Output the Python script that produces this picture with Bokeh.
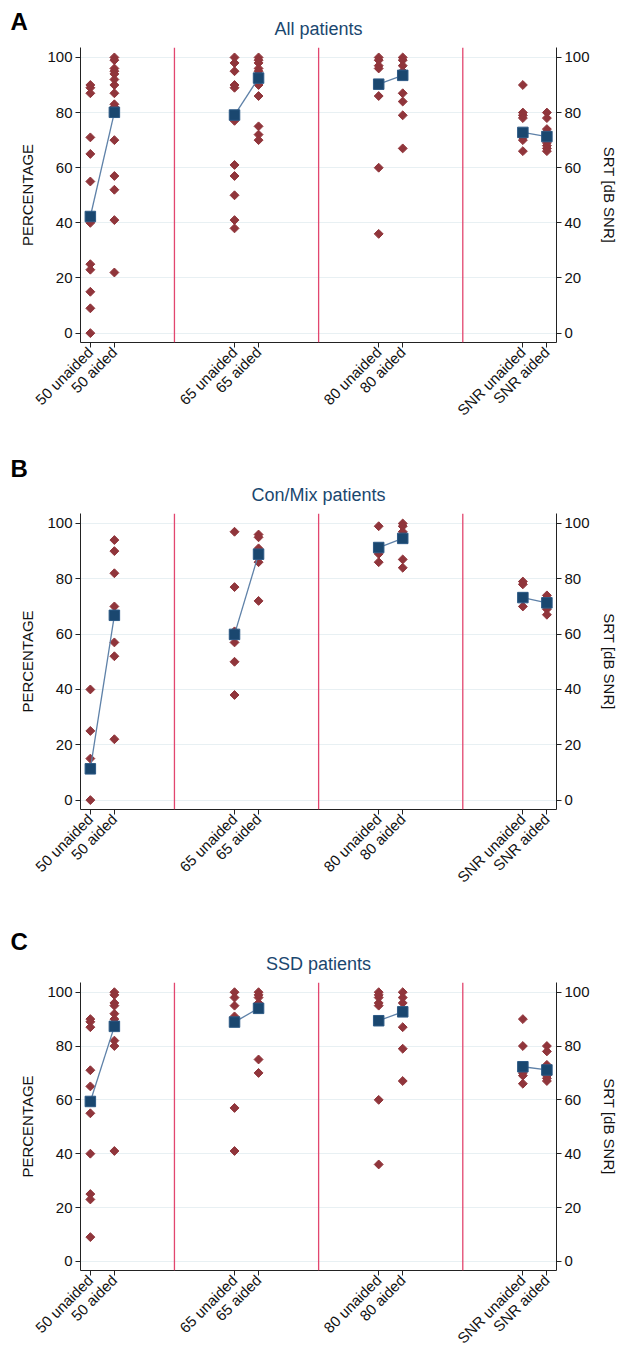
import math
from bokeh.plotting import figure
from bokeh.models import Range1d, LinearAxis, FixedTicker, Span, Title
from bokeh.layouts import column
from bokeh.embed import file_html
from bokeh.resources import INLINE

# ---------------- data ----------------
categories = ["50 unaided", "50 aided", "65 unaided", "65 aided",
              "80 unaided", "80 aided", "SNR unaided", "SNR aided"]
y_ticks = [0, 20, 40, 60, 80, 100]

# Panel A: All patients
all_50_unaided = [90, 89, 87, 71, 65, 55, 40, 25, 23, 15, 9, 0]
all_50_aided = [100, 99, 96, 95, 94, 92, 90, 87, 83, 82, 70, 57, 52, 41, 22]
all_65_unaided = [100, 98, 95, 90, 89, 77, 61, 57, 50, 41, 38]
all_65_aided = [100, 99, 98, 96, 95, 90, 86, 75, 72, 70]
all_80_unaided = [100, 99, 97, 96, 86, 60, 36]
all_80_aided = [100, 99, 97, 95, 87, 84, 79, 67]
all_snr_unaided = [90, 80, 79, 78, 71, 70, 66]
all_snr_aided = [80, 78, 74, 73, 70, 69, 68, 67, 66]
all_means = [42.3, 80.1, 79.1, 92.5, 90.3, 93.5, 72.8, 71.3]

# Panel B: Con/Mix patients
cm_50_unaided = [40, 25, 15, 0]
cm_50_aided = [94, 90, 82, 70, 57, 52, 22]
cm_65_unaided = [97, 77, 61, 57, 50, 38]
cm_65_aided = [96, 95, 91, 86, 72]
cm_80_unaided = [99, 89, 86]
cm_80_aided = [100, 99, 97, 87, 84]
cm_snr_unaided = [79, 78, 70]
cm_snr_aided = [74, 73, 69, 67]
cm_means = [11.3, 66.8, 59.9, 88.9, 91.3, 94.6, 73.2, 71.3]

# Panel C: SSD patients
ssd_50_unaided = [90, 89, 87, 71, 65, 55, 40, 25, 23, 9]
ssd_50_aided = [100, 99, 96, 95, 92, 90, 82, 80, 41]
ssd_65_unaided = [100, 98, 95, 91, 57, 41]
ssd_65_aided = [100, 99, 98, 96, 75, 70]
ssd_80_unaided = [100, 99, 98, 96, 95, 60, 36]
ssd_80_aided = [100, 98, 96, 87, 79, 67]
ssd_snr_unaided = [90, 80, 70, 69, 66]
ssd_snr_aided = [80, 78, 73, 69, 68, 67]
ssd_means = [59.4, 87.3, 88.9, 94.0, 89.4, 92.7, 72.3, 71.1]

# ---------------- style ----------------
FONT = "Liberation Sans"
NAVY = "#1a476f"
CRAN = "#90353b"
LINE = "#5e81a8"
RED_LINE = "#e2466f"
GRID = "#e8f0f3"

positions = [1 + 6 * (i // 2) + (i % 2) for i in range(len(categories))]
separators = [(positions[i + 1] + positions[i + 2]) / 2 for i in (0, 2, 4)]

X0, X1 = 0.59, 20.4
Y0, Y1 = -3.4, 103.6


def make_panel(letter, title, groups, means, height, btop, bbottom, letter_standoff):
    p = figure(width=620, height=height, output_backend="svg", toolbar_location=None,
               x_range=Range1d(X0, X1), y_range=Range1d(Y0, Y1),
               min_border_left=80, min_border_right=59,
               min_border_top=btop, min_border_bottom=bbottom)
    p.title = None
    p.outline_line_color = None
    p.xgrid.visible = False
    p.ygrid.ticker = FixedTicker(ticks=y_ticks)
    p.ygrid.grid_line_color = GRID
    p.ygrid.grid_line_width = 1

    p.add_layout(Title(text=title, align="center", text_font=FONT, text_font_size="18px",
                       text_font_style="normal", text_color=NAVY, standoff=18), "above")
    p.add_layout(Title(text=letter, align="left", offset=-70, standoff=letter_standoff,
                       text_font=FONT, text_font_size="24px", text_font_style="bold",
                       text_color="black"), "above")

    for s in separators:
        p.add_layout(Span(location=s, dimension="height", line_color=RED_LINE, line_width=1.3))

    for pos, vals in zip(positions, groups):
        p.scatter([pos] * len(vals), vals, marker="square", angle=math.pi / 4, size=6.3,
                  fill_color=CRAN, line_color=CRAN)

    xs = [[positions[i], positions[i + 1]] for i in (0, 2, 4, 6)]
    ys = [[means[i], means[i + 1]] for i in (0, 2, 4, 6)]
    p.multi_line(xs, ys, line_color=LINE, line_width=1.3)
    p.scatter(positions, means, marker="square", size=10.5, fill_color=NAVY, line_color="#2c5985")

    xa = p.xaxis[0]
    xa.ticker = FixedTicker(ticks=positions)
    xa.major_label_overrides = {pos: lab for pos, lab in zip(positions, categories)}
    xa.major_label_orientation = math.pi / 4
    xa.major_label_text_font = FONT
    xa.major_label_text_font_size = "15px"
    xa.major_label_text_color = "#111111"
    xa.major_label_standoff = 2
    xa.minor_tick_line_color = None
    xa.major_tick_out = 5
    xa.major_tick_in = 0
    xa.axis_line_color = "#222222"
    xa.major_tick_line_color = "#222222"

    ya = p.yaxis[0]
    ya.ticker = FixedTicker(ticks=y_ticks)
    ya.axis_label = "PERCENTAGE"

    p.extra_y_ranges = {"srt": Range1d(Y0, Y1)}
    ra = LinearAxis(y_range_name="srt", ticker=FixedTicker(ticks=y_ticks), axis_label="SRT [dB SNR]")
    p.add_layout(ra, "right")

    for ax in (ya, ra):
        ax.major_label_text_font = FONT
        ax.major_label_text_font_size = "15px"
        ax.major_label_text_color = "#111111"
        ax.axis_label_text_font = FONT
        ax.axis_label_text_font_size = "15px"
        ax.axis_label_text_font_style = "normal"
        ax.axis_label_text_color = "#111111"
        ax.axis_label_standoff = 8
        ax.minor_tick_line_color = None
        ax.major_tick_out = 5
        ax.major_tick_in = 0
        ax.major_label_standoff = 3
        ax.axis_line_color = "#222222"
        ax.major_tick_line_color = "#222222"
    return p


pA = make_panel("A", "All patients",
                [all_50_unaided, all_50_aided, all_65_unaided, all_65_aided,
                 all_80_unaided, all_80_aided, all_snr_unaided, all_snr_aided],
                all_means, 453, 47, 111, -54)
pB = make_panel("B", "Con/Mix patients",
                [cm_50_unaided, cm_50_aided, cm_65_unaided, cm_65_aided,
                 cm_80_unaided, cm_80_aided, cm_snr_unaided, cm_snr_aided],
                cm_means, 469, 60, 113, -16)
pC = make_panel("C", "SSD patients",
                [ssd_50_unaided, ssd_50_aided, ssd_65_unaided, ssd_65_aided,
                 ssd_80_unaided, ssd_80_aided, ssd_snr_unaided, ssd_snr_aided],
                ssd_means, 433, 60, 80, -24)

layout = column(pA, pB, pC, spacing=0)
open("out.html", "w").write(file_html(layout, INLINE))
